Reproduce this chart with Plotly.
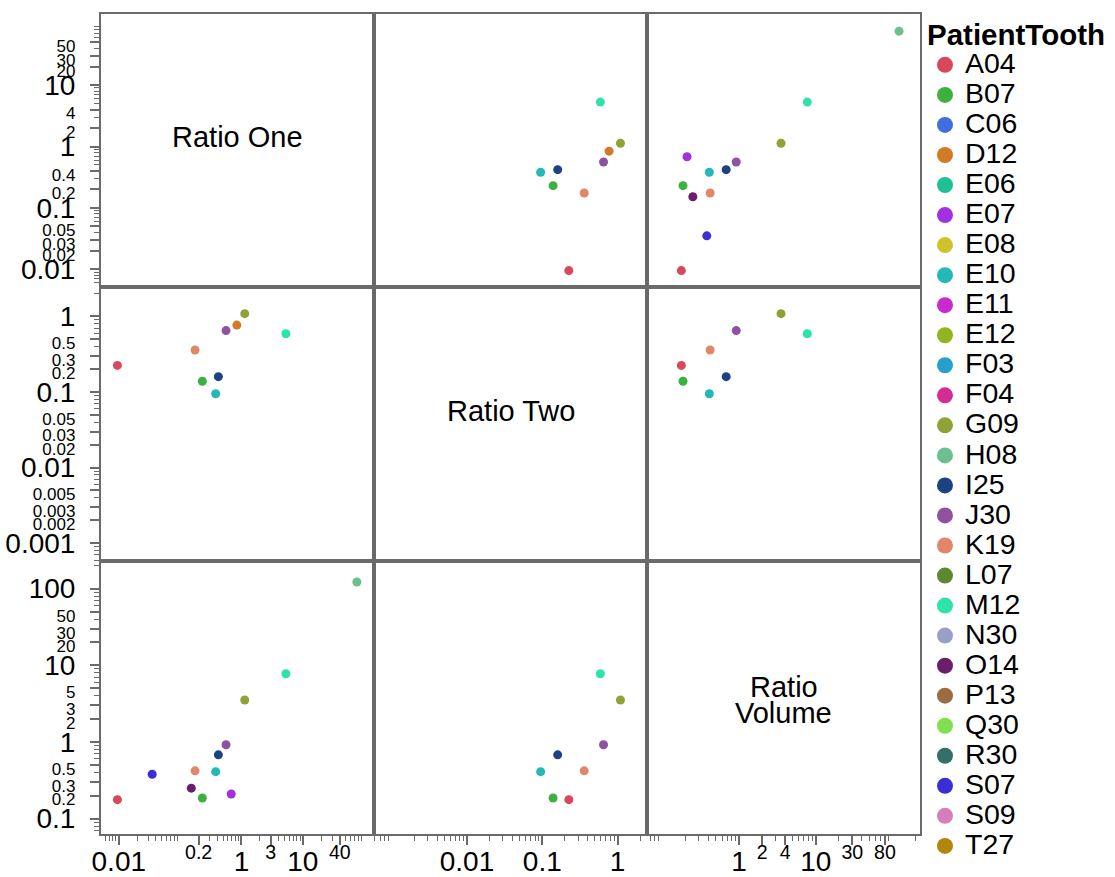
import math
import plotly.graph_objects as go
from plotly.subplots import make_subplots

# ---------------- data ----------------
patients = ["A04", "B07", "D12", "E07", "E10", "G09", "H08", "I25", "J30", "K19", "M12", "O14", "S07"]
ratio_one = [0.0095, 0.23, 0.84, 0.68, 0.38, 1.13, 76, 0.42, 0.56, 0.175, 5.3, 0.152, 0.035]
ratio_two = [0.225, 0.139, 0.77, None, 0.095, 1.09, None, 0.16, 0.65, 0.36, 0.59, None, None]
ratio_volume = [0.177, 0.186, None, 0.21, 0.41, 3.53, 122, 0.68, 0.92, 0.42, 7.77, 0.25, 0.38]

legend_names = ["A04", "B07", "C06", "D12", "E06", "E07", "E08", "E10", "E11", "E12", "F03", "F04", "G09",
                "H08", "I25", "J30", "K19", "L07", "M12", "N30", "O14", "P13", "Q30", "R30", "S07", "S09", "T27"]
legend_colors = ["#D9475B", "#3DB140", "#3F6FDE", "#D27A26", "#22BF94", "#A030E0", "#CEC22C", "#22B9B8",
                 "#C82BCB", "#90B520", "#269FCB", "#D42B95", "#8FA237", "#6BC08E", "#1D4282", "#9052A0",
                 "#E0876A", "#5E8732", "#2DE3A5", "#98A0C8", "#6B1E6B", "#9D6B40", "#80E050", "#357068",
                 "#3A2ED5", "#D47EBC", "#B2850F"]

var_labels = ["Ratio One", "Ratio Two", "Ratio Volume"]

# y-axis tick labels (left column)
y1_ticks = [0.01, 0.02, 0.03, 0.05, 0.1, 0.2, 0.4, 1, 2, 4, 10, 20, 30, 50]
y1_text = ["0.01", "0.02", "0.03", "0.05", "0.1", "0.2", "0.4", "1", "2", "4", "10", "20", "30", "50"]
y2_ticks = [0.001, 0.002, 0.003, 0.005, 0.01, 0.02, 0.03, 0.05, 0.1, 0.2, 0.3, 0.5, 1]
y2_text = ["0.001", "0.002", "0.003", "0.005", "0.01", "0.02", "0.03", "0.05", "0.1", "0.2", "0.3", "0.5", "1"]
y3_ticks = [0.1, 0.2, 0.3, 0.5, 1, 2, 3, 5, 10, 20, 30, 50, 100]
y3_text = ["0.1", "0.2", "0.3", "0.5", "1", "2", "3", "5", "10", "20", "30", "50", "100"]
# x-axis tick labels (bottom row)
x1_ticks = [0.01, 0.2, 1, 3, 10, 40]
x1_text = ["0.01", "0.2", "1", "3", "10", "40"]
x2_ticks = [0.01, 0.1, 1]
x2_text = ["0.01", "0.1", "1"]
x3_ticks = [1, 2, 4, 10, 30, 80]
x3_text = ["1", "2", "4", "10", "30", "80"]

# log10 axis ranges per variable
ranges = [[-2.29, 2.16], [-3.235, 0.39], [-1.2, 2.36]]

FONT = "Liberation Sans, Arial, sans-serif"
BIG = 28
SMALL = 17
AXC = "#6a6a6a"
H = 877

variables = [ratio_one, ratio_two, ratio_volume]
ytick_sets = [(y1_ticks, y1_text), (y2_ticks, y2_text), (y3_ticks, y3_text)]
xtick_sets = [(x1_ticks, x1_text), (x2_ticks, x2_text), (x3_ticks, x3_text)]

# panel pixel rows (top, bottom) -> paper fractions
row_px = [(14, 287), (287, 561), (561, 834)]
row_dom = [[(H - b) / H, (H - t) / H] for t, b in row_px]


def is_decade(v):
    l = math.log10(v)
    return abs(l - round(l)) < 1e-9


def ylabels(vals, texts):
    return [t if is_decade(v) else '<span style="font-size:%dpx">%s</span>' % (SMALL, t)
            for v, t in zip(vals, texts)]


def xlabels(vals, texts):
    return [t if is_decade(v) else "<sup>%s</sup>" % t for v, t in zip(vals, texts)]


def minor_vals(rng):
    out = []
    for e in range(math.floor(rng[0]) - 1, math.ceil(rng[1]) + 1):
        for k in range(2, 10):
            v = k * 10 ** e
            if rng[0] <= math.log10(v) <= rng[1]:
                out.append(v)
    return out


color_of = dict(zip(legend_names, legend_colors))

fig = make_subplots(rows=3, cols=3, horizontal_spacing=0, vertical_spacing=0)

for r in range(3):
    for c in range(3):
        if r == c:
            # empty diagonal cell: an invisible placeholder so the axes exist
            fig.add_trace(go.Scatter(x=[None], y=[None], mode="markers", showlegend=False,
                                     hoverinfo="skip"), row=r + 1, col=c + 1)
            continue
        xs, ys, cols, txt = [], [], [], []
        for i, p in enumerate(patients):
            xv, yv = variables[c][i], variables[r][i]
            if xv is None or yv is None:
                continue
            xs.append(xv)
            ys.append(yv)
            cols.append(color_of[p])
            txt.append(p)
        fig.add_trace(go.Scatter(x=xs, y=ys, mode="markers", text=txt, showlegend=False,
                                 marker=dict(size=9, color=cols, line=dict(width=0))),
                      row=r + 1, col=c + 1)

# legend entries
for n, col in zip(legend_names, legend_colors):
    fig.add_trace(go.Scatter(x=[None], y=[None], mode="markers",
                             name='<span style="font-size:28.5px">%s</span>' % n,
                             marker=dict(size=18, color=col), showlegend=True),
                  row=2, col=2)

for r in range(3):
    for c in range(3):
        ax_common = dict(type="log", showgrid=False, zeroline=False, showline=True, mirror=True,
                         linecolor=AXC, linewidth=2, automargin=False)
        # x axis
        xa = dict(ax_common, range=ranges[c])
        if r == 2:
            tv, tt = xtick_sets[c]
            xa.update(tickmode="array", tickvals=tv, ticktext=xlabels(tv, tt), ticks="outside",
                      ticklen=9, tickwidth=1.5, tickcolor=AXC, ticklabelstandoff=-8,
                      tickfont=dict(family=FONT, size=BIG, color="black"),
                      minor=dict(tickmode="array", tickvals=minor_vals(ranges[c]), ticks="outside",
                                 ticklen=5, tickwidth=1.2, tickcolor=AXC))
        else:
            xa.update(showticklabels=False, ticks="")
        fig.update_xaxes(xa, row=r + 1, col=c + 1)
        # y axis
        ya = dict(ax_common, range=ranges[r], domain=row_dom[r])
        if c == 0:
            tv, tt = ytick_sets[r]
            ya.update(tickmode="array", tickvals=tv, ticktext=ylabels(tv, tt), ticks="outside",
                      ticklen=9, tickwidth=1.5, tickcolor=AXC, ticklabelstandoff=9,
                      tickfont=dict(family=FONT, size=BIG, color="black"),
                      minor=dict(tickmode="array", tickvals=minor_vals(ranges[r]), ticks="outside",
                                 ticklen=5, tickwidth=1.2, tickcolor=AXC))
        else:
            ya.update(showticklabels=False, ticks="")
        fig.update_yaxes(ya, row=r + 1, col=c + 1)

# diagonal labels
LF = dict(family=FONT, size=29, color="black")
fig.add_annotation(x=0.5, y=0.549, xref="x domain", yref="y domain", text="Ratio One",
                   showarrow=False, font=LF)
fig.add_annotation(x=0.5, y=0.549, xref="x5 domain", yref="y5 domain", text="Ratio Two",
                   showarrow=False, font=LF)
fig.add_annotation(x=0.5, y=0.538, xref="x9 domain", yref="y9 domain", text="Ratio",
                   showarrow=False, font=LF)
fig.add_annotation(x=0.5, y=0.443, xref="x9 domain", yref="y9 domain", text="Volume",
                   showarrow=False, font=LF)

fig.update_layout(
    template="none",
    width=1115, height=H,
    margin=dict(l=101, r=195, t=0, b=0, pad=0),
    paper_bgcolor="white", plot_bgcolor="white",
    font=dict(family=FONT, color="black"),
    showlegend=True,
    legend=dict(x=1.0061, xanchor="left", y=0.9926, yanchor="top",
                font=dict(family=FONT, size=20.8, color="black"),
                title=dict(text="<b>PatientTooth</b>", font=dict(family=FONT, size=29.5, color="black")),
                tracegroupgap=0, itemwidth=30, bgcolor="rgba(0,0,0,0)", borderwidth=0),
)

fig.write_html("out.html")
